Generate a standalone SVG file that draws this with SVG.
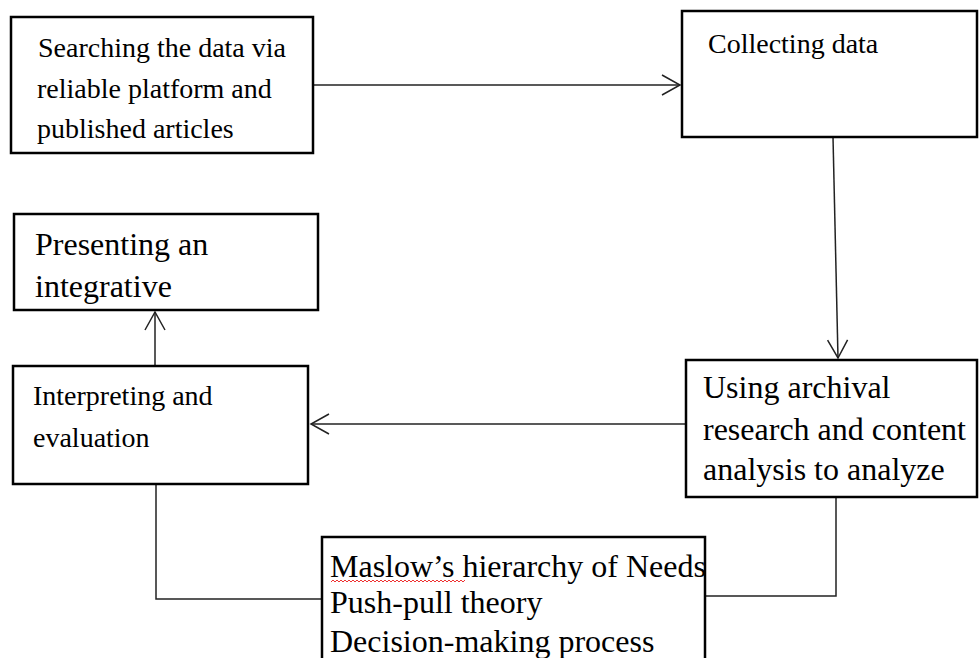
<svg xmlns="http://www.w3.org/2000/svg" width="979" height="658" viewBox="0 0 979 658">
<style>
.box{fill:#fff;stroke:#000;stroke-width:2.5}
.t{font-family:"Liberation Serif","Times New Roman",serif;fill:#000}
.s28{font-size:28px}
.s32{font-size:32px}
.c{fill:none;stroke:#222;stroke-width:1.5}
</style>
<defs>
<marker id="arr" viewBox="-20 -12 22 24" markerWidth="22" markerHeight="24" refX="0" refY="0" orient="auto" markerUnits="userSpaceOnUse">
<path d="M-18,-10 L0,0 L-18,10" fill="none" stroke="#222" stroke-width="1.5"/>
</marker>
</defs>
<rect width="979" height="658" fill="#fff"/>
<g id="connectors">
<line class="c" x1="313" y1="85" x2="680" y2="85" marker-end="url(#arr)"/>
<line class="c" x1="833" y1="137" x2="838" y2="358" marker-end="url(#arr)"/>
<line class="c" x1="686" y1="424" x2="311" y2="424" marker-end="url(#arr)"/>
<line class="c" x1="155" y1="366" x2="155" y2="312" marker-end="url(#arr)"/>
<polyline class="c" points="156,484 156,599 322,599"/>
<polyline class="c" points="705,596 836,596 836,497"/>
</g>
<g id="n-search">
<rect class="box" x="11" y="17" width="302" height="136"/>
<text class="t s28" x="38" y="57">Searching the data via</text>
<text class="t s28" x="37" y="98">reliable platform and</text>
<text class="t s28" x="37" y="138">published articles</text>
</g>
<g id="n-collect">
<rect class="box" x="682" y="11" width="295" height="126"/>
<text class="t s28" x="708" y="53">Collecting data</text>
</g>
<g id="n-present">
<rect class="box" x="14" y="214" width="304" height="96"/>
<text class="t s32" x="35" y="255">Presenting an</text>
<text class="t s32" x="35" y="297">integrative</text>
</g>
<g id="n-interpret">
<rect class="box" x="13" y="366" width="295" height="118"/>
<text class="t s28" x="33" y="405">Interpreting and</text>
<text class="t s28" x="33" y="447">evaluation</text>
</g>
<g id="n-using">
<rect class="box" x="686" y="360" width="291" height="137"/>
<text class="t s32" x="703" y="398">Using archival</text>
<text class="t s32" x="703" y="440">research and content</text>
<text class="t s32" x="703" y="480">analysis to analyze</text>
</g>
<g id="n-theories">
<rect class="box" x="322" y="537" width="383" height="140"/>
<text class="t s32" x="330" y="577">Maslow’s hierarchy of Needs</text>
<text class="t s32" x="330" y="613">Push-pull theory</text>
<text class="t s32" x="330" y="652">Decision-making process</text>
<path d="M331,582 l2,-2 l2,2 l2,-2 l2,2 l2,-2 l2,2 l2,-2 l2,2 l2,-2 l2,2 l2,-2 l2,2 l2,-2 l2,2 l2,-2 l2,2 l2,-2 l2,2 l2,-2 l2,2 l2,-2 l2,2 l2,-2 l2,2 l2,-2 l2,2 l2,-2 l2,2 l2,-2 l2,2 l2,-2 l2,2 l2,-2 l2,2 l2,-2 l2,2 l2,-2 l2,2 l2,-2 l2,2 l2,-2 l2,2 l2,-2 l2,2 l2,-2 l2,2 l2,-2 l2,2 l2,-2 l2,2 l2,-2 l2,2 l2,-2 l2,2 l2,-2 l2,2 l2,-2 l2,2 l2,-2 l2,2 l2,-2 l2,2 l2,-2 l2,2 l2,-2 l2,2 l2,-2" fill="none" stroke="#e33" stroke-width="1"/>
</g>
</svg>
